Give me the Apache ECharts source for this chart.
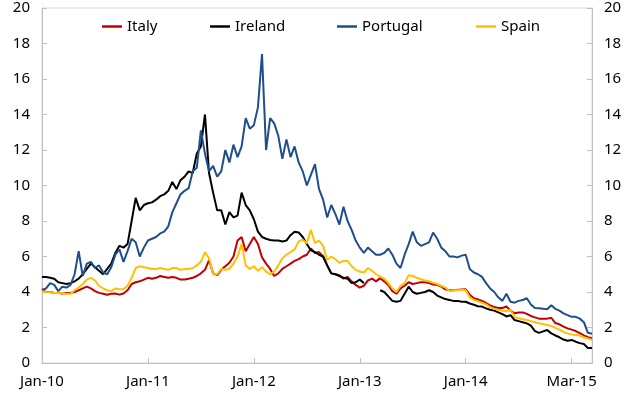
<!DOCTYPE html>
<html>
<head>
<meta charset="utf-8">
<script src="https://cdn.jsdelivr.net/npm/echarts@6/dist/echarts.min.js"></script>
<style>
  html, body { margin: 0; padding: 0; background: #fff; }
  #main { width: 628px; height: 400px; }
</style>
</head>
<body>
<div id="main"></div>
<script>
// two-weekly readings, Jan-10 .. Mar-15 (26 points a year)
var tickIdx = [0, 26, 52, 78, 104, 130];
var tickLabels = ['Jan-10', 'Jan-11', 'Jan-12', 'Jan-13', 'Jan-14', 'Mar-15'];

var italy = [4.13,4.0,4.0,3.95,3.95,3.9,3.95,3.95,4.0,4.1,4.2,4.3,4.2,4.05,3.95,3.9,3.85,3.9,3.92,3.85,
  3.92,4.1,4.45,4.55,4.6,4.7,4.8,4.75,4.8,4.9,4.85,4.8,4.85,4.8,4.7,4.7,4.75,4.8,4.9,5.05,
  5.25,5.8,5.05,4.95,5.25,5.45,5.65,6.0,6.9,7.1,6.3,6.7,7.1,6.7,5.95,5.6,5.3,4.9,5.05,5.3,
  5.45,5.6,5.75,5.85,6.0,6.1,6.45,6.2,6.25,6.0,5.5,5.05,5.0,4.95,4.75,4.85,4.6,4.4,4.25,4.35,
  4.65,4.75,4.6,4.78,4.6,4.4,4.05,3.9,4.2,4.35,4.55,4.45,4.5,4.55,4.55,4.5,4.42,4.4,4.3,4.15,
  4.1,4.1,4.12,4.15,4.15,3.85,3.65,3.58,3.5,3.38,3.25,3.16,3.1,3.1,3.18,2.95,2.8,2.85,2.85,2.77,
  2.65,2.57,2.5,2.5,2.5,2.55,2.25,2.18,2.05,1.95,1.88,1.8,1.68,1.55,1.45,1.39];

var ireland = [4.85,4.85,4.8,4.75,4.55,4.5,4.45,4.5,4.6,4.75,5.0,5.3,5.6,5.4,5.2,5.0,5.3,5.6,6.2,6.6,
  6.5,6.7,8.0,9.3,8.6,8.9,9.0,9.05,9.2,9.4,9.5,9.7,10.2,9.8,10.3,10.5,10.8,10.7,11.8,12.2,
  14.0,10.7,9.6,8.6,8.6,7.8,8.5,8.2,8.3,9.6,8.9,8.6,8.1,7.4,7.1,7.0,6.93,6.9,6.9,6.85,
  6.9,7.2,7.4,7.35,7.1,6.7,6.35,6.25,6.1,6.0,5.5,5.05,5.0,4.9,4.8,4.75,4.5,4.55,4.7,4.5,
  null,null,null,4.1,4.0,3.75,3.5,3.45,3.5,3.9,4.3,4.0,3.9,3.95,4.0,4.1,4.0,3.8,3.7,3.6,
  3.55,3.5,3.5,3.45,3.45,3.35,3.28,3.2,3.18,3.08,3.0,2.95,2.85,2.75,2.62,2.7,2.42,2.36,2.3,2.23,
  2.1,1.8,1.7,1.78,1.86,1.67,1.55,1.45,1.32,1.25,1.3,1.2,1.12,1.07,0.85,0.85];

var portugal = [4.13,4.2,4.5,4.4,4.05,4.3,4.25,4.4,5.0,6.3,4.9,5.6,5.7,5.35,5.5,5.1,5.0,5.4,6.1,6.4,
  5.7,6.3,7.0,6.8,6.0,6.5,6.9,7.0,7.1,7.3,7.4,7.7,8.5,9.0,9.5,9.7,9.85,10.8,11.0,13.1,
  11.8,10.8,11.1,10.5,10.8,12.0,11.3,12.3,11.6,12.2,13.8,13.2,13.4,14.4,17.4,12.0,13.8,13.5,12.8,11.5,
  12.6,11.6,12.2,11.3,10.8,10.0,10.6,11.2,9.8,9.2,8.2,8.9,8.4,7.8,8.8,8.0,7.5,6.9,6.5,6.2,
  6.5,6.3,6.1,6.1,6.2,6.45,6.1,5.6,5.35,6.1,6.7,7.4,6.8,6.6,6.7,6.8,7.35,7.0,6.5,6.3,
  6.0,6.0,5.95,6.05,6.1,5.3,5.1,5.0,4.85,4.5,4.2,4.0,3.7,3.5,3.9,3.45,3.4,3.5,3.55,3.65,
  3.3,3.1,3.08,3.05,3.03,3.25,3.05,2.95,2.8,2.7,2.6,2.6,2.5,2.3,1.7,1.65];

var spain = [4.04,4.0,3.98,3.95,3.95,3.9,3.9,3.9,4.1,4.25,4.45,4.7,4.8,4.65,4.35,4.2,4.1,4.05,4.2,4.15,
  4.15,4.35,4.8,5.35,5.45,5.4,5.35,5.3,5.3,5.35,5.3,5.25,5.35,5.35,5.25,5.3,5.3,5.35,5.5,5.7,
  6.25,5.9,5.0,5.0,5.3,5.25,5.3,5.6,6.0,6.7,5.5,5.3,5.45,5.2,5.4,5.15,5.0,5.15,5.5,5.9,
  6.1,6.25,6.4,6.85,6.95,6.75,7.5,6.75,6.9,6.6,5.8,6.0,5.85,5.65,5.75,5.75,5.45,5.25,5.15,5.1,
  5.35,5.2,5.0,4.87,4.75,4.5,4.2,4.0,4.35,4.5,4.95,4.9,4.8,4.72,4.65,4.6,4.52,4.45,4.35,4.25,
  4.05,4.1,4.1,4.15,4.1,3.7,3.55,3.48,3.4,3.3,3.15,3.05,3.0,2.95,2.92,3.0,2.6,2.52,2.47,2.42,
  2.36,2.3,2.24,2.2,2.14,2.08,1.98,1.88,1.75,1.67,1.6,1.58,1.55,1.45,1.38,1.3];

var cats = [];
for (var i = 0; i < italy.length; i++) cats.push(i);

var FONT = 'Noto Sans';
var axisGrey = '#bfbfbf';

function isTick(idx) { return tickIdx.indexOf(idx) >= 0; }

function mkLegend(name, left) {
  return {
    data: [name], left: left, top: 14,
    icon: 'rect', itemWidth: 20, itemHeight: 2.5,
    textStyle: { fontFamily: FONT, fontSize: 15, color: '#000' }
  };
}

function yAxis(pos) {
  return {
    type: 'value', position: pos, min: 0, max: 20, interval: 2,
    axisLine: { show: true, lineStyle: { color: axisGrey } },
    axisTick: { show: true, inside: true, length: 5, lineStyle: { color: axisGrey } },
    splitLine: { show: false },
    axisLabel: { fontFamily: FONT, fontSize: 15, color: '#000', margin: 12 }
  };
}

function line(name, data, color) {
  return {
    name: name, type: 'line', data: data, showSymbol: false, symbol: 'none',
    lineStyle: { color: color, width: 2 }, itemStyle: { color: color },
    connectNulls: false
  };
}

var myChart = echarts.init(document.getElementById('main'));
var option = {
  animation: false,
  grid: { left: 42, right: 36, top: 8, bottom: 37, show: true, borderColor: '#d9d9d9', borderWidth: 1 },
  legend: [mkLegend('Italy', 97), mkLegend('Ireland', 205), mkLegend('Portugal', 332), mkLegend('Spain', 471)],
  xAxis: {
    type: 'category', data: cats, boundaryGap: false,
    axisLine: { lineStyle: { color: axisGrey } },
    axisTick: { show: true, inside: true, length: 5, interval: function (idx) { return isTick(idx); }, lineStyle: { color: axisGrey } },
    axisLabel: {
      fontFamily: FONT, fontSize: 15, color: '#000', margin: 11,
      interval: function (idx) { return isTick(idx); },
      formatter: function (v, idx) { return tickLabels[tickIdx.indexOf(idx)] || ''; }
    }
  },
  yAxis: [yAxis('left'), yAxis('right')],
  series: [
    line('Italy', italy, '#c00000'),
    line('Ireland', ireland, '#000000'),
    line('Portugal', portugal, '#1f4e8c'),
    line('Spain', spain, '#ffc000')
  ]
};
myChart.setOption(option);
</script>
</body>
</html>
